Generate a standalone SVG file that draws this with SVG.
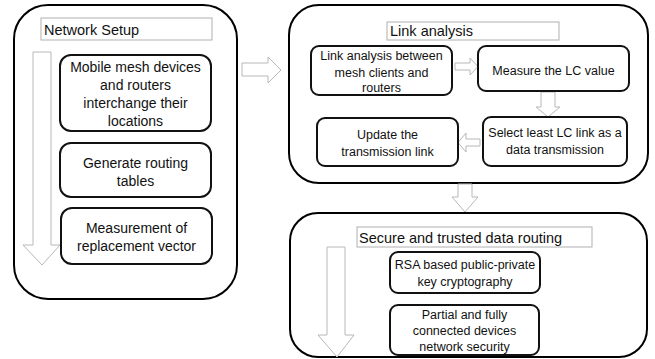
<svg xmlns="http://www.w3.org/2000/svg" width="655" height="359" viewBox="0 0 655 359">
<style>
.cont{fill:#fff;stroke:#000;stroke-width:2}
.node{fill:#fff;stroke:#111;stroke-width:2}
.title{fill:#fff;stroke:#b0b0b0;stroke-width:1}
.arr{fill:#fff;stroke:#b8b8b8;stroke-width:1}
text{font-family:"Liberation Sans",Arial,sans-serif;fill:#111}
.t{font-size:14.5px}
.l{font-size:14px;text-anchor:middle}
.s{font-size:12.5px;text-anchor:middle}
</style>
<rect width="655" height="359" fill="#fff"/>
<g id="network-setup">
<rect class="cont" x="14" y="5" width="223" height="294" rx="34"/>
<rect class="title" x="41" y="18" width="171" height="22"/>
<text class="t" x="44" y="35">Network Setup</text>
</g>
<g id="link-analysis">
<rect class="cont" x="289" y="5" width="359" height="178" rx="30"/>
<rect class="title" x="387" y="22" width="172" height="18"/>
<text class="t" x="390" y="36">Link analysis</text>
</g>
<g id="secure-routing">
<rect class="cont" x="290" y="213" width="357" height="144" rx="28"/>
<rect class="title" x="357" y="227" width="235" height="20"/>
<text class="t" x="359" y="243">Secure and trusted data routing</text>
</g>
<g id="connectors">
<polygon class="arr" points="33,52 51,52 51,245 60,245 42,265 23,245 33,245"/>
<polygon class="arr" points="242,63 268,63 268,57 281,70 268,83 268,76 242,76"/>
<polygon class="arr" points="458,184 472,184 472,197 478,197 465,212 452,197 458,197"/>
<polygon class="arr" points="455,63 470,63 470,58 478,66.5 470,75 470,70 455,70"/>
<polygon class="arr" points="541,92 555,92 555,107 560,107 548,117 536,107 541,107"/>
<polygon class="arr" points="480,139 480,146 466,146 466,152 458,142.5 466,133 466,139"/>
<polygon class="arr" points="327,247 345,247 345,335 354,335 337,357 318,335 327,335"/>
</g>
<g id="n1">
<rect class="node" x="60" y="55" width="151" height="76" rx="11"/>
<text class="l" x="135.5" y="72">Mobile mesh devices</text>
<text class="l" x="135.5" y="90">and routers</text>
<text class="l" x="135.5" y="108">interchange their</text>
<text class="l" x="135.5" y="126">locations</text>
</g>
<g id="n2">
<rect class="node" x="60" y="143" width="151" height="54" rx="11"/>
<text class="l" x="135.5" y="168">Generate routing</text>
<text class="l" x="135.5" y="186">tables</text>
</g>
<g id="n3">
<rect class="node" x="61" y="208" width="151" height="56" rx="11"/>
<text class="l" x="136.5" y="233">Measurement of</text>
<text class="l" x="136.5" y="251">replacement vector</text>
</g>
<g id="nA">
<rect class="node" x="311" y="46" width="141" height="49" rx="8"/>
<text class="s" x="381.5" y="60">Link analysis between</text>
<text class="s" x="381.5" y="77">mesh clients and</text>
<text class="s" x="381.5" y="92">routers</text>
</g>
<g id="nB">
<rect class="node" x="478" y="46" width="151" height="45" rx="8"/>
<text class="s" x="553.5" y="75">Measure the LC value</text>
</g>
<g id="nC">
<rect class="node" x="483" y="117" width="144" height="49" rx="8"/>
<text class="s" x="555" y="137">Select least LC link as a</text>
<text class="s" x="555" y="154">data transmission</text>
</g>
<g id="nD">
<rect class="node" x="317" y="118" width="141" height="48" rx="8"/>
<text class="s" x="387.5" y="139">Update the</text>
<text class="s" x="387.5" y="156">transmission link</text>
</g>
<g id="nE">
<rect class="node" x="390" y="252" width="150" height="41" rx="8"/>
<text class="s" x="465" y="269">RSA based public-private</text>
<text class="s" x="465" y="286">key cryptography</text>
</g>
<g id="nF">
<rect class="node" x="390" y="305" width="149" height="50" rx="8"/>
<text class="s" x="464.5" y="319">Partial and fully</text>
<text class="s" x="464.5" y="335">connected devices</text>
<text class="s" x="464.5" y="351">network security</text>
</g>
</svg>
